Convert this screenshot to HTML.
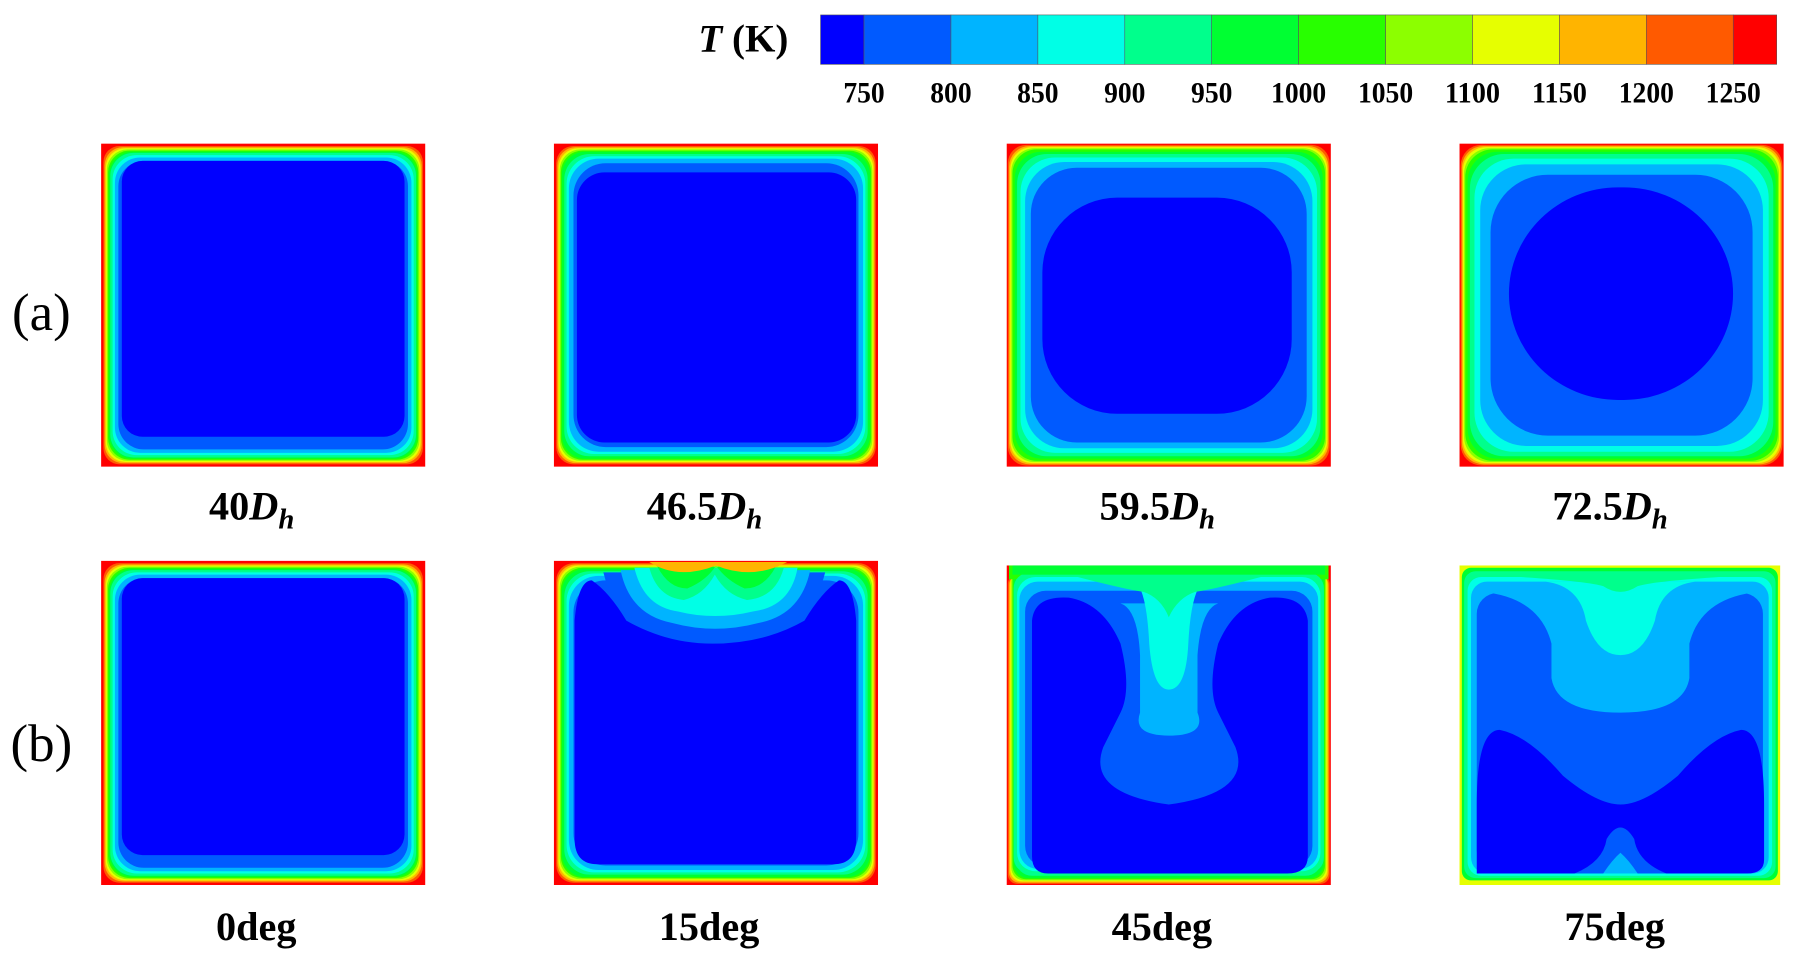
<!DOCTYPE html>
<html><head><meta charset="utf-8">
<style>
html,body{margin:0;padding:0;background:#fff;}
svg{display:block;}
text{font-family:"Liberation Serif",serif;font-weight:bold;fill:#000;}
</style></head>
<body>
<svg id="fig" width="1802" height="962" viewBox="0 0 1568 837" preserveAspectRatio="none" xmlns="http://www.w3.org/2000/svg">
<g id="cbar"></g>
<g id="panels"></g>
<g id="labels"></g>
</svg>
<script>
const tickLabels = ["750","800","850","900","950","1000","1050","1100","1150","1200","1250"];
const levelColors = ["#0000ff","#005aff","#00b4ff","#00ffe6","#00ff8c","#00ff32","#28ff00","#8cff00","#e6ff00","#ffb400","#ff5a00","#ff0000"];
const rowALabels = ["40","46.5","59.5","72.5"];
const rowBLabels = ["0deg","15deg","45deg","75deg"];
// band insets per panel (outer→inner): [inset, radius]
const p40 = [[2,14],[3,16],[4,17],[5,18],[6,19],[7,20],[8,20],[10,21],[12,22],[15,22]];
const p46 = [[2,15],[3,16],[4,17],[5,18],[6,19],[7,20],[9,22],[11,24],[13,26],[17,28]];
const p59 = [[1,16],[2,18],[3,19],[4,20],[5,21],[7,23],[9,26],[12,30],[16,34],[21,40]];
const p72 = [[1,18],[2,19],[3,20],[4,22],[5,24],[7,26],[9,30],[13,34],[18,40],[27,50]];

const NS="http://www.w3.org/2000/svg";
function mk(tag,attrs,parent){const e=document.createElementNS(NS,tag);for(const k in attrs)e.setAttribute(k,attrs[k]);parent.appendChild(e);return e;}

// colorbar
const cb=document.getElementById('cbar');
const x0=714,x1=1546,yT=13,yB=56;
const nFull=tickLabels.length-1;
const seg=(x1-x0)/(nFull+1);
levelColors.forEach((c,i)=>{
  let a = i===0? x0 : x0+seg/2+(i-1)*seg;
  let b = i===levelColors.length-1? x1 : x0+seg/2+i*seg;
  const r=mk('rect',{x:a,y:yT,width:b-a,height:yB-yT,fill:c,stroke:'#555','stroke-width':0.5},cb);
  
  
});
tickLabels.forEach((t,i)=>{
  const tx=mk('text',{x:x0+seg/2+i*seg,y:89,'font-size':26,'text-anchor':'middle',textLength:t.length*12,lengthAdjust:'spacingAndGlyphs'},cb);
  tx.textContent=t;
  
  
});
const tt=mk('text',{x:686,y:45,'font-size':34,'text-anchor':'end'},cb);
tt.innerHTML='<tspan font-style="italic">T</tspan> (K)';



const P=document.getElementById('panels');
const cols=[88,482,876,1270];
function bands(g,x,y,w,h,ins,inner){
  mk('rect',{x:x,y:y,width:w,height:h,fill:levelColors[11]},g);
  ins.forEach((v,i)=>{
    const c=levelColors[10-i];
    mk('rect',{x:x+v[0],y:y+v[0],width:w-2*v[0],height:h-2*v[0],rx:v[1],fill:c},g);
  });
  if(inner){mk('rect',{x:x+inner[0],y:y+inner[1],width:w-inner[0]-inner[2],height:h-inner[1]-inner[3],rx:inner[4],fill:levelColors[0]},g);}
}
function panel(name){const g=mk('g',{},P);return g;}

let g;
g=panel('panel-40dh');bands(g,cols[0],125,282,281,p40,[18,15,18,26,18]);
g=panel('panel-46-5dh');bands(g,cols[1],125,282,281,p46,[20,25,19,21,24]);
g=panel('panel-59-5dh');bands(g,cols[2],125,282,281,p59,[31,47,34,46,65]);
g=panel('panel-72-5dh');bands(g,cols[3],125,282,281,p72,[43,38,44,58,95]);
g=panel('panel-0deg');bands(g,cols[0],488,282,282,p40,[18,15,18,26,18]);

// 15deg
g=panel('panel-15deg');bands(g,cols[1],488,282,282,p46,null);
mk('path',{d:'M500 540 Q503 505 515 505 Q530 515 545 540 Q580 560 620 560 Q665 560 700 540 Q715 515 730 505 Q742 505 745 540 L745 730 Q745 752 725 752 L520 752 Q500 752 500 730 Z',fill:levelColors[0]},g);
mk('path',{d:'M525 498 Q535 540 580 552 Q620 562 662 552 Q708 540 718 498 Z',fill:levelColors[1]},g);
mk('path',{d:'M540 496 Q548 535 585 542 Q622 552 660 542 Q697 535 705 496 Z',fill:levelColors[2]},g);
mk('path',{d:'M552 494 Q560 528 590 532 Q622 540 655 532 Q688 528 694 494 Z',fill:levelColors[3]},g);
mk('path',{d:'M565 494 Q572 520 595 522 Q612 518 622 500 Q632 518 650 522 Q675 520 682 494 Z',fill:levelColors[4]},g);
mk('path',{d:'M572 493 Q582 512 598 512 Q615 505 623 492 Q632 505 648 512 Q665 512 675 493 Z',fill:levelColors[5]},g);
mk('path',{d:'M565 489 Q590 505 623 492 Q655 505 685 489 Z',fill:levelColors[9]},g);

// 45deg
g=panel('panel-45deg');
const x45=876,y45=492;
mk('rect',{x:x45,y:y45,width:282,height:278,fill:levelColors[11]},g);
[[1,8,8],[2,8,9],[3,6,10],[4,3,11],[5,1,12],[6,0,13],[8,0,14]].forEach((v,i)=>{
  mk('rect',{x:x45+v[0],y:y45+v[1],width:282-2*v[0],height:278-v[1]-v[0],rx:v[2],fill:levelColors[10-i]},g);
});
mk('rect',{x:x45+2,y:y45,width:278,height:12,fill:levelColors[6]},g);
mk('rect',{x:x45+6,y:y45+6,width:270,height:262,rx:14,fill:levelColors[4]},g);
mk('rect',{x:x45+9,y:y45+10,width:264,height:256,rx:16,fill:levelColors[3]},g);
mk('rect',{x:x45+11,y:y45+14,width:260,height:250,rx:16,fill:levelColors[2]},g);
mk('rect',{x:x45+16,y:y45+22,width:250,height:240,rx:18,fill:levelColors[1]},g);
mk('path',{d:'M898 540 Q900 518 930 520 Q960 525 975 560 Q985 600 975 620 L960 650 Q945 690 1017 700 Q1090 690 1075 650 L1060 620 Q1050 600 1060 560 Q1075 525 1105 520 Q1135 518 1138 540 L1138 745 Q1138 760 1120 760 L912 760 Q898 760 898 745 Z',fill:levelColors[0]},g);
mk('path',{d:'M975 525 Q990 530 992 570 L992 620 Q985 640 1017 640 Q1050 640 1042 620 L1042 570 Q1045 530 1060 525 Z',fill:levelColors[2]},g);
mk('path',{d:'M990 508 Q998 520 1000 560 Q1003 600 1017 600 Q1032 600 1034 560 Q1036 520 1045 508 Z',fill:levelColors[3]},g);
mk('path',{d:'M930 500 L1105 500 Q1060 512 1040 515 Q1025 520 1017 537 Q1010 520 995 515 Q975 512 930 500 Z',fill:levelColors[4]},g);
mk('rect',{x:x45+5,y:y45,width:272,height:8,fill:levelColors[5]},g);

// 75deg
g=panel('panel-75deg');
const x75=1270,y75=492;
mk('rect',{x:x75,y:y75,width:279,height:278,fill:levelColors[8]},g);
mk('rect',{x:x75+2,y:y75+2,width:275,height:272,rx:8,fill:levelColors[5]},g);
mk('rect',{x:x75+4,y:y75+5,width:271,height:267,rx:10,fill:levelColors[4]},g);
mk('rect',{x:x75+7,y:y75+10,width:265,height:260,rx:12,fill:levelColors[3]},g);
mk('rect',{x:x75+10,y:y75+14,width:259,height:254,rx:14,fill:levelColors[2]},g);
mk('rect',{x:x75+15,y:y75+24,width:249,height:242,rx:18,fill:levelColors[1]},g);
mk('path',{d:'M1285 760 L1285 700 Q1285 635 1305 635 Q1330 640 1360 675 Q1390 700 1410 700 Q1430 700 1460 675 Q1490 640 1515 635 Q1535 635 1535 700 L1535 748 Q1535 760 1520 760 Z',fill:levelColors[0]},g);
mk('path',{d:'M1370 760 Q1395 750 1398 730 Q1410 710 1422 730 Q1425 750 1450 760 Z',fill:levelColors[1]},g);
mk('path',{d:'M1395 760 Q1403 748 1410 742 Q1417 748 1425 760 Z',fill:levelColors[2]},g);
mk('path',{d:'M1290 515 L1530 515 Q1480 520 1470 560 L1470 590 Q1465 620 1410 620 Q1355 620 1350 590 L1350 560 Q1340 520 1290 515 Z',fill:levelColors[2]},g);
mk('path',{d:'M1345 506 L1475 506 Q1445 510 1440 540 Q1430 570 1410 570 Q1390 570 1380 540 Q1375 510 1345 506 Z',fill:levelColors[3]},g);
mk('path',{d:'M1290 500 L1530 500 Q1440 505 1425 510 Q1410 520 1395 510 Q1380 505 1290 500 Z',fill:levelColors[4]},g);

// labels
const L=document.getElementById('labels');
const centers=cols.map(c=>c+141);
rowALabels.forEach((t,i)=>{
  const e=mk('text',{x:centers[i]-10,y:452,'font-size':35,'text-anchor':'middle'},L);
  e.innerHTML=t+'<tspan font-style="italic">D</tspan><tspan font-style="italic" font-size="25" dy="8">h</tspan>';
  
  
});
rowBLabels.forEach((t,i)=>{
  const e=mk('text',{x:centers[i]-6,y:818,'font-size':35,'text-anchor':'middle'},L);
  e.textContent=t;
  
  
});
const ra=mk('text',{x:36,y:287,'font-size':46,'text-anchor':'middle'},L);
ra.textContent='(a)';ra.style.fontWeight='normal';


const rb=mk('text',{x:36,y:662,'font-size':46,'text-anchor':'middle'},L);
rb.textContent='(b)';rb.style.fontWeight='normal';


</script>
</body></html>
